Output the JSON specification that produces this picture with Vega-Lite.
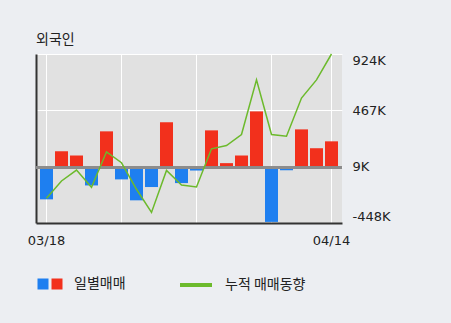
{
  "$schema": "https://vega.github.io/schema/vega-lite/v6.json",
  "autosize": {"type": "none"},
  "padding": {"left": 36, "top": 54, "right": 109, "bottom": 100},
  "width": 306,
  "height": 169,
  "background": "#eceef2",
  "title": {"text": "외국인", "anchor": "start", "frame": "group", "offset": -10, "baseline": "bottom", "fontSize": 14, "font": "Noto Sans CJK KR", "fontWeight": "normal", "color": "#222222"},
  "data": {"values": [
    {"date": "03/18", "value": -256, "cum": -247},
    {"date": "03/19", "value": 135, "cum": -107},
    {"date": "03/20", "value": 100, "cum": -18},
    {"date": "03/23", "value": -143, "cum": -158},
    {"date": "03/24", "value": 296, "cum": 130},
    {"date": "03/25", "value": -94, "cum": 41},
    {"date": "03/26", "value": -264, "cum": -174},
    {"date": "03/27", "value": -156, "cum": -362},
    {"date": "03/30", "value": 369, "cum": -21},
    {"date": "03/31", "value": -124, "cum": -139},
    {"date": "04/01", "value": -22, "cum": -155},
    {"date": "04/02", "value": 304, "cum": 154},
    {"date": "04/03", "value": 38, "cum": 181},
    {"date": "04/06", "value": 100, "cum": 270},
    {"date": "04/07", "value": 458, "cum": 714},
    {"date": "04/08", "value": -439, "cum": 270},
    {"date": "04/09", "value": -20, "cum": 256},
    {"date": "04/10", "value": 312, "cum": 566},
    {"date": "04/13", "value": 159, "cum": 714},
    {"date": "04/14", "value": 215, "cum": 924}
  ]},
  "layer": [
    {
      "mark": {"type": "bar"},
      "encoding": {
        "x": {
          "field": "date", "type": "ordinal", "sort": null,
          "scale": {"paddingInner": 0.1333, "paddingOuter": 0.2667},
          "axis": {
            "title": null,
            "values": ["03/18", "03/25", "04/01", "04/08", "04/14"],
            "labelExpr": "(datum.value == '03/18' || datum.value == '04/14') ? datum.value : ''",
            "labelAngle": 0, "labelAlign": "center", "labelDx": 3,
            "labelFont": "DejaVu Sans", "labelFontSize": 13, "labelColor": "#222222",
            "labelPadding": 11,
            "ticks": false,
            "grid": true, "gridColor": "#ffffff", "gridWidth": 1,
            "domain": true, "domainColor": "#333333", "domainWidth": 2
          }
        },
        "y": {
          "field": "value", "type": "quantitative",
          "scale": {"domain": [-448, 924], "nice": false, "zero": false},
          "axis": {"orient": "left", "title": null, "labels": false, "ticks": false, "grid": false, "domain": true, "domainColor": "#333333", "domainWidth": 2}
        },
        "color": {
          "datum": "pos",
          "type": "nominal",
          "condition": {"test": "datum.value < 0", "value": "#1e7ff0"},
          "scale": {"domain": ["neg", "pos"], "range": ["#1e7ff0", "#f2301c"]},
          "legend": {
            "orient": "none", "legendX": 0, "legendY": 223, "direction": "horizontal",
            "title": null, "symbolType": "square", "symbolSize": 121, "symbolStrokeWidth": 0,
            "labelOffset": 0, "columnPadding": -11, "padding": 0,
            "labelFont": "Noto Sans CJK KR", "labelFontSize": 14, "labelColor": "#222222",
            "labelExpr": "datum.label == 'neg' ? '' : '\u2800일별매매'"
          }
        }
      }
    },
    {
      "mark": {"type": "rule", "color": "#8c8c8c", "strokeWidth": 2},
      "encoding": {"y": {"datum": 0, "type": "quantitative", "axis": null}}
    },
    {
      "mark": {"type": "line", "strokeWidth": 1.5},
      "encoding": {
        "x": {"field": "date", "type": "ordinal", "sort": null},
        "y": {
          "field": "cum", "type": "quantitative",
          "axis": {
            "orient": "right", "title": null,
            "values": [-448, 9, 467, 924],
            "labelExpr": "datum.value + 'K'",
            "labelFlush": true,
            "labelFont": "DejaVu Sans", "labelFontSize": 13, "labelColor": "#222222",
            "labelPadding": 10, "ticks": false, "domain": false,
            "grid": true, "gridColor": "#ffffff", "gridWidth": 1
          }
        },
        "stroke": {
          "datum": "누적 매매동향",
          "type": "nominal",
          "scale": {"range": ["#6cba2c"]},
          "legend": {
            "orient": "none", "legendX": 142, "legendY": 213, "title": null,
            "symbolType": "stroke", "symbolSize": 1024, "symbolStrokeWidth": 4,
            "labelOffset": 11, "padding": 0,
            "labelFont": "Noto Sans CJK KR", "labelFontSize": 14, "labelColor": "#222222"
          }
        }
      }
    }
  ],
  "config": {
    "view": {"fill": "#e1e1e1", "stroke": null}
  }
}
